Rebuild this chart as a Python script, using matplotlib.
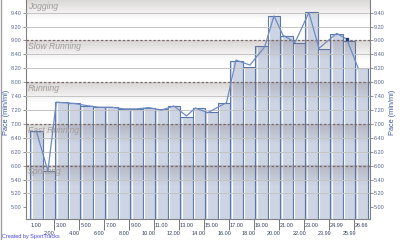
import numpy as np
import matplotlib
matplotlib.use("Agg")
import matplotlib.pyplot as plt
import matplotlib.transforms as mtransforms

# --- DATA (pace in decimal minutes per mile) ---
SPLIT_LABELS = ["1.00", "2.00", "3.00", "4.00", "5.00", "6.00", "7.00", "8.00", "9.00",
                "10.00", "11.00", "12.00", "13.00", "14.00", "15.00", "16.00", "17.00",
                "18.00", "19.00", "20.00", "21.00", "22.00", "23.00", "23.99", "24.99",
                "25.99", "26.66"]
SPLIT_PACE = [6.83, 5.87, 7.52, 7.49, 7.44, 7.40, 7.40, 7.36, 7.36, 7.39, 7.35, 7.43, 7.16,
              7.37, 7.29, 7.49, 8.51, 8.36, 8.87, 9.59, 9.11, 8.94, 9.68, 8.80, 9.15, 8.99,
              8.34]

# smoothed pace trace (position in split units, pace)
TRACE_POS = [0.0, 0.93, 1.6, 3.0, 4.0, 5.0, 6.0, 7.0, 8.0, 9.0, 10.0, 11.0, 12.0, 12.7,
             13.7, 15.2, 15.95, 17.07, 18.25, 18.99, 19.7, 20.67, 21.78, 22.58, 24.0,
             24.8, 25.7]
TRACE_PACE = [6.83, 5.87, 7.52, 7.49, 7.44, 7.40, 7.40, 7.36, 7.36, 7.39, 7.33, 7.43, 7.19,
              7.38, 7.27, 7.51, 8.53, 8.41, 8.85, 9.59, 9.13, 8.95, 9.67, 8.81, 9.17, 9.03,
              8.35]
MARKER_POS = 24.8
MARKER_PACE = 9.03

ZONE_NAMES = ["Jogging", "Slow Running", "Running", "Fast Running", "Sprinting"]
ZONE_TOPS = [10.0, 9.0, 8.0, 7.0, 6.0]

Y_MIN, Y_MAX = 4.72, 9.97
X_MIN, X_MAX = -0.82, 26.66


def pace_label(v):
    m = int(v + 1e-6)
    s = int(round((v - m) * 60))
    if s == 60:
        m, s = m + 1, 0
    return f"{m}.{s:02d}"


def main():
    fig = plt.figure(figsize=(4, 2.4), dpi=100)
    ax = fig.add_axes([26 / 400, 21 / 240, 344 / 400, 219 / 240])

    x = np.arange(len(SPLIT_PACE))
    ax.bar(x, SPLIT_PACE, width=1.0, color="#cdd5e5", edgecolor="#5a78ad",
           linewidth=0.8, zorder=2)
    # white highlight near the left edge of every bar
    ax.vlines(x - 0.38, 0, np.array(SPLIT_PACE) - 0.03, color="white", lw=0.8,
              alpha=0.9, zorder=2.5)

    # zone bands: grey gradient at the top of each zone
    for top in ZONE_TOPS:
        grad = np.zeros((60, 1, 4))
        grad[..., 0] = 0.47
        grad[..., 1] = 0.41
        grad[..., 2] = 0.41
        grad[:, 0, 3] = np.linspace(0.28, 0.0, 60)
        ax.imshow(grad, extent=(X_MIN, X_MAX, top - 0.5, top), aspect="auto",
                  origin="upper", interpolation="bilinear", zorder=3)

    ticks = [5 + k / 3 for k in range(15)]
    for t in ticks:
        if abs(t - round(t)) > 1e-6:
            ax.axhline(t, color="#c4c4c4", lw=0.7, zorder=3.5)
    for t in ZONE_TOPS[1:]:
        ax.axhline(t, color="#7a6a6a", lw=0.9, ls=(0, (2, 1.5)), zorder=4)

    for name, top in zip(ZONE_NAMES, ZONE_TOPS):
        y = min(top, Y_MAX) - 0.04
        ax.text(-0.66, y, name, va="top", ha="left", fontsize=6.2, style="italic",
                family="Liberation Sans", color="#a39d9d", zorder=4.5)

    ax.plot(TRACE_POS, TRACE_PACE, color="#6f8cc0", lw=0.9, zorder=5)
    ax.plot(MARKER_POS, MARKER_PACE, marker="s", ms=2, color="#263a78", zorder=6)

    ax.set_xlim(X_MIN, X_MAX)
    ax.set_ylim(Y_MIN, Y_MAX)

    ax.set_yticks(ticks, labels=[pace_label(t) for t in ticks])
    ax.tick_params(axis="y", left=True, right=True, labelleft=True, labelright=True,
                   length=2, width=0.6, color="#808080", labelsize=4,
                   labelcolor="#56658a", pad=1)
    for lab in ax.get_yticklabels() + ax.yaxis.get_ticklabels(which="major"):
        lab.set_family("Liberation Sans")

    ax.set_xticks([1.4 + 2 * k for k in range(13)], labels=[])
    ax.tick_params(axis="x", length=8, width=0.6, color="#606060")

    trans = mtransforms.blended_transform_factory(ax.transData, ax.transAxes)
    for i, lab in enumerate(SPLIT_LABELS):
        yy = -0.030 if i % 2 == 0 else -0.066
        ax.text(i, yy, lab, transform=trans, ha="center", va="center", fontsize=4,
                family="Liberation Sans", color="#33405e")

    for side in ["left", "right", "bottom"]:
        ax.spines[side].set_color("#808080")
        ax.spines[side].set_linewidth(0.8)
    ax.spines["top"].set_visible(False)

    for xx in (7 / 400, 393 / 400):
        fig.text(xx, 1 - 112 / 240, "Pace (min/mi)", rotation=90, ha="center",
                 va="center", fontsize=5.3, family="Liberation Sans", color="#3a5aa5")

    # credit line sits just below the lower row of split labels
    fig.text(2 / 400, 1 - 236.5 / 240, "Created by SportTracks", ha="left", va="center",
             fontsize=4, family="Liberation Sans", color="#4646e0")

    fig.add_artist(plt.Line2D([0.5 / 400, 0.5 / 400], [0, 1], color="#a0a0a0", lw=1))

    fig.savefig("out.png", dpi=100)


if __name__ == "__main__":
    main()
